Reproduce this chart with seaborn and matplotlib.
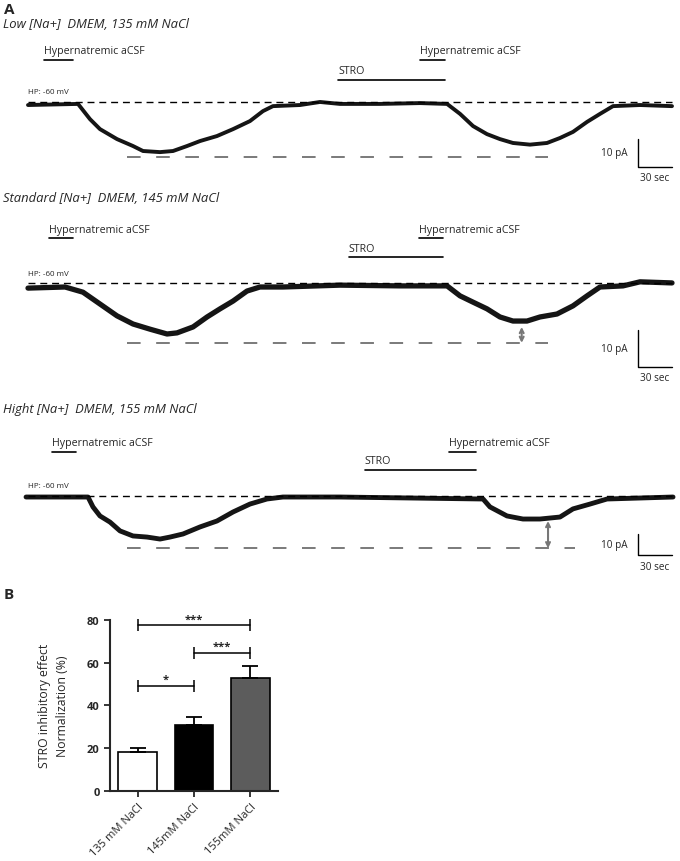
import numpy as np
import pandas as pd
import seaborn as sns
import matplotlib.pyplot as plt

# ---- panel A: holding current traces (time in s, current in pA re. holding) ----
t_low = [0, 43.5, 53.9, 62.6, 77.4, 91.3, 100.0, 114.8, 126.1, 138.3, 149.6, 164.3, 178.3,
         193.0, 204.3, 213.0, 236.5, 253.9, 271.3, 306.1, 340.9, 364.4, 375.7, 387.0, 399.1,
         410.4, 421.7, 436.5, 451.3, 462.6, 473.9, 486.1, 497.4, 508.7, 532.2, 560.0]
i_low = [-1.2, -0.8, -6.3, -9.9, -13.5, -16.0, -17.8, -18.2, -17.8, -16.0, -14.2, -12.4, -9.9,
         -7.0, -3.4, -1.6, -1.2, -0.1, -0.8, -0.8, -0.5, -0.8, -4.4, -8.8, -11.7,
         -13.5, -14.9, -15.5, -14.9, -13.1, -10.9, -7.3, -4.4, -1.6, -1.2, -1.6]

t_std = [0, 32.2, 47.8, 62.6, 77.4, 91.3, 106.1, 120.9, 129.6, 143.5, 155.7, 167.0, 178.3,
         190.4, 201.7, 221.7, 271.3, 323.5, 364.4, 375.7, 387.0, 399.1, 410.4, 421.7, 433.9,
         445.2, 460.0, 473.9, 486.1, 497.4, 517.4, 532.2, 560.0]
i_std = [-1.3, -1.0, -2.4, -5.6, -8.8, -11.0, -12.4, -13.7, -13.4, -11.8, -9.1, -6.9, -4.8,
         -2.1, -1.0, -1.0, -0.5, -0.7, -0.7, -3.4, -5.1, -6.9, -9.1, -10.2, -10.2,
         -9.1, -8.3, -6.1, -3.4, -1.0, -0.7, 0.4, 0.1]

t_high = [-1.7, 52.2, 56.5, 62.6, 71.3, 80.0, 91.3, 103.5, 114.8, 123.5, 134.8, 149.6, 164.3,
          178.3, 193.0, 207.8, 221.7, 271.3, 395.7, 401.7, 416.5, 430.4, 445.2, 462.6, 473.9,
          488.7, 503.5, 560.9]
i_high = [-0.6, -0.6, -5.1, -9.2, -12.0, -16.0, -18.3, -18.8, -19.7, -18.8, -17.4, -14.2, -11.5,
          -7.4, -3.8, -1.5, -0.6, -0.6, -1.5, -5.1, -9.2, -10.6, -10.6, -9.7, -6.0,
          -3.8, -1.5, -0.6]

titles = ["Low [Na+]  DMEM, 135 mM NaCl",
          "Standard [Na+]  DMEM, 145 mM NaCl",
          "Hight [Na+]  DMEM, 155 mM NaCl"]
hyper1 = [(13.9, 39.1), (18.3, 39.1), (20.9, 41.7)]
hyper2 = [(340.9, 362.6), (340.0, 360.9), (366.1, 389.6)]
stro = [(269.6, 362.6), (279.1, 360.9), (293.0, 389.6)]
peak_ref = [-19.9, -16.1, -23.9]        # lower dashed reference level
arrow_t = [None, 429.3, 452.2]
arrow_top = [None, -11.8, -11.5]

# ---- panel B ----
groups = ["135 mM NaCl", "145mM NaCl", "155mM NaCl"]
effect = [18.0, 31.0, 53.0]
effect_sem = [1.9, 3.7, 5.3]
sig = [(0, 2, 77.3, "***"), (1, 2, 64.5, "***"), (0, 1, 49.0, "*")]

sns.set_style("white")
plt.rcParams['font.family'] = ['Open Sans', 'DejaVu Sans']

W, H = 680, 862
fig = plt.figure(figsize=(W / 100, H / 100), dpi=100)


def px_axes(x0, y0, x1, y1):
    return fig.add_axes([x0 / W, 1 - y1 / H, (x1 - x0) / W, (y1 - y0) / H])


def ftext(x, y, s, **kw):
    fig.text(x / W, 1 - y / H, s, **kw)


ftext(4, 10, "A", fontsize=11, fontweight="bold", va="center")
ftext(4, 595, "B", fontsize=11, fontweight="bold", va="center")

sec_per_px = 30 / 34.5
# (axes top px, axes bottom px, holding line px, px per pA, title y px, bar top/bottom pA)
layout = [(40, 190, 102.7, 2.77, 25, (-13.5, -23.5)),
          (215, 385, 284.3, 3.7, 199, (-12.5, -22.5)),
          (425, 580, 496.7, 2.2, 410, (-17.3, -27.0))]
traces = [(t_low, i_low), (t_std, i_std), (t_high, i_high)]
widths = [2.8, 3.8, 3.5]

for k, (top, bot, hp, s, ty, sb) in enumerate(layout):
    ax = px_axes(0, top, W, bot)
    ax.set_xlim(-28 * sec_per_px, (W - 28) * sec_per_px)
    ax.set_ylim((hp - bot) / s, (hp - top) / s)
    ax.axis("off")
    ftext(3, ty, titles[k], fontsize=9.4, fontstyle="italic", va="center")

    t, i = traces[k]
    sns.lineplot(x=t, y=i, ax=ax, color="#151515", lw=widths[k], sort=False,
                 estimator=None)

    ax.plot([0, 560], [0, 0], color="black", lw=1.0, ls=(0, (5, 3.5)))
    ax.plot([86.5, 452.5 if k < 2 else 475.7], [peak_ref[k]] * 2, color="#7a7a7a",
            lw=1.4, ls=(0, (7, 8)))
    ax.annotate("HP: -60 mV", (0, 0), xytext=(0, 4.5), textcoords="offset points",
                fontsize=5.8, va="bottom")

    y_h = 15.2 if k == 0 else (12.2 if k == 1 else 20.0)
    y_s = 7.9 if k == 0 else (7.1 if k == 1 else 11.7)
    for (a, b), yy, lab in [(hyper1[k], y_h, "Hypernatremic aCSF"),
                            (hyper2[k], y_h, "Hypernatremic aCSF"),
                            (stro[k], y_s, "STRO")]:
        ax.plot([a, b], [yy, yy], color="black", lw=1.2)
        ax.annotate(lab, (a, yy), xytext=(0, 2.5), textcoords="offset points",
                    fontsize=7.7, va="bottom", ha="left")

    if arrow_t[k] is not None:
        ax.annotate("", xy=(arrow_t[k], peak_ref[k]), xytext=(arrow_t[k], arrow_top[k]),
                    arrowprops=dict(arrowstyle="<->", color="#777777", lw=1.5,
                                    shrinkA=0, shrinkB=0, mutation_scale=7))

    # scale bar 10 pA / 30 sec
    ax.plot([530.1, 530.1, 560.0], [sb[0], sb[1], sb[1]], color="black", lw=1.0)
    ax.annotate("10 pA", (530.1, (sb[0] + sb[1]) / 2), xytext=(-7, 0),
                textcoords="offset points", fontsize=7.2, ha="right", va="center")
    ax.annotate("30 sec", (545, sb[1]), xytext=(0, -4), textcoords="offset points",
                fontsize=7.2, ha="center", va="top")

# ---- panel B: bar chart ----
axb = px_axes(110, 620.7, 278, 792)
bar_df = pd.DataFrame({"group": groups, "effect": effect})
sns.barplot(data=bar_df, x="group", y="effect", hue="group", legend=False,
            palette=["white", "black", "#5c5c5c"], edgecolor="black", linewidth=1.2,
            width=0.69, ax=axb)
axb.errorbar(x=[0, 1, 2], y=effect, yerr=[[0, 0, 0], effect_sem], fmt="none",
             ecolor="black", elinewidth=1.3, capsize=6, capthick=1.3)
axb.set_xlim(-0.487, 2.487)
axb.set_ylim(0, 80)
axb.set_yticks([0, 20, 40, 60, 80])
axb.set_xlabel("")
axb.set_ylabel("STRO inhibitory effect\nNormalization (%)", fontsize=8.8, labelpad=13,
               linespacing=1.5)
for side in ["top", "right"]:
    axb.spines[side].set_visible(False)
for side in ["left", "bottom"]:
    axb.spines[side].set_linewidth(1.5)
axb.tick_params(axis="both", direction="out", length=4, width=1.3, labelsize=8)
axb.tick_params(axis="x", bottom=True)
axb.tick_params(axis="y", left=True)
plt.setp(axb.get_yticklabels(), fontweight="bold")
plt.setp(axb.get_xticklabels(), rotation=45, ha="right", rotation_mode="anchor")

for a, b, yy, star in sig:
    axb.plot([a, b], [yy, yy], color="black", lw=1.1, marker="|", markersize=8,
             markeredgewidth=1.1, clip_on=False)
    axb.text((a + b) / 2, yy + 0.5, star, ha="center", va="bottom", fontsize=8,
             fontweight="bold")

fig.savefig("out.png", dpi=100)
